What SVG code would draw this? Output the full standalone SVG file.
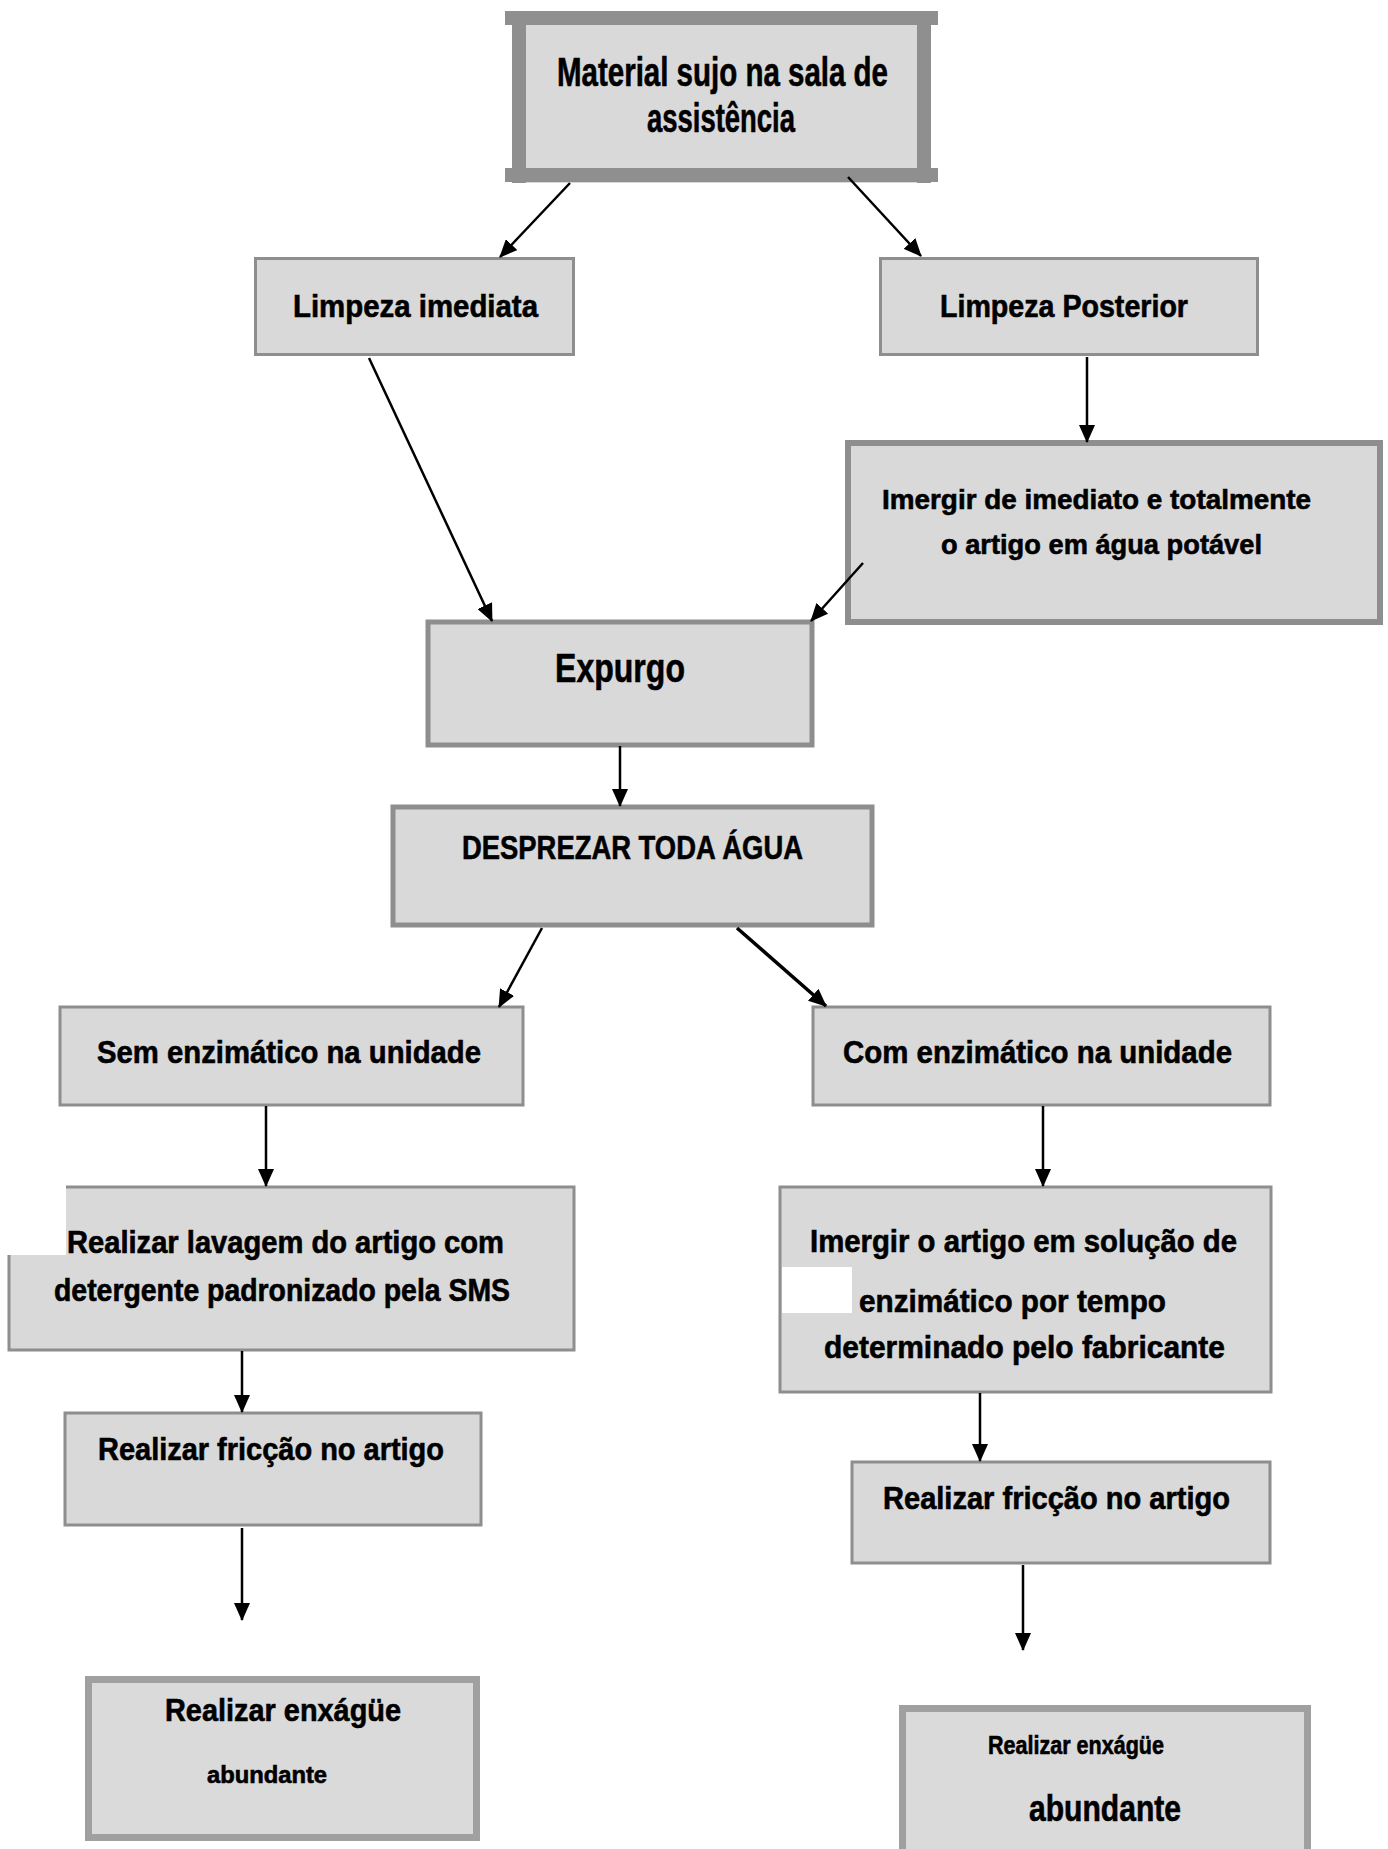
<svg xmlns="http://www.w3.org/2000/svg" width="1388" height="1849" viewBox="0 0 1388 1849">
<style>
.bx{fill:#d9d9d9;stroke:#8e8e8e;stroke-width:3}
.bx5{fill:#d9d9d9;stroke:#8e8e8e;stroke-width:5}
.bx6{fill:#d9d9d9;stroke:#8e8e8e;stroke-width:6}
.bx7{fill:#dadada;stroke:#a0a0a0;stroke-width:7}
.bar{stroke:#8f8f8f;stroke-width:14}
text{font-family:"Liberation Sans",Arial,sans-serif;font-weight:bold;fill:#000;stroke:#000;stroke-width:0.6;text-anchor:start}
.c{stroke:#000;stroke-width:2.5;fill:none;marker-end:url(#ah)}
</style>
<defs>
<marker id="ah" markerUnits="userSpaceOnUse" markerWidth="18" markerHeight="16" viewBox="0 0 18 16" refX="17" refY="8" orient="auto">
<path d="M0,0 L18,8 L0,16 z" fill="#000"/>
</marker>
</defs>
<rect width="1388" height="1849" fill="#fff"/>

<g id="n_top">
<rect x="513" y="11" width="417" height="172" fill="#d9d9d9"/>
<line class="bar" x1="505" y1="18" x2="938" y2="18"/>
<line class="bar" x1="505" y1="175" x2="938" y2="175"/>
<line class="bar" x1="519" y1="11" x2="519" y2="183"/>
<line class="bar" x1="924" y1="11" x2="924" y2="183"/>
<text x="557" y="86" font-size="40" textLength="331" lengthAdjust="spacingAndGlyphs">Material sujo na sala de</text>
<text x="647" y="132" font-size="40" textLength="148" lengthAdjust="spacingAndGlyphs">assistência</text>
</g>

<g id="n_limp_imed">
<rect class="bx" x="255.5" y="258.5" width="318" height="96"/>
<text x="293" y="317" font-size="31" textLength="245" lengthAdjust="spacingAndGlyphs">Limpeza imediata</text>
</g>

<g id="n_limp_post">
<rect class="bx" x="880.5" y="258.5" width="377" height="96"/>
<text x="940" y="317" font-size="31" textLength="248" lengthAdjust="spacingAndGlyphs">Limpeza Posterior</text>
</g>

<g id="n_imergir1">
<rect class="bx6" x="848" y="443" width="532" height="179"/>
<text x="882" y="509" font-size="28" textLength="429" lengthAdjust="spacingAndGlyphs">Imergir de imediato e totalmente</text>
<text x="941" y="554" font-size="28" textLength="321" lengthAdjust="spacingAndGlyphs">o artigo em água potável</text>
</g>

<g id="n_expurgo">
<rect class="bx5" x="428" y="622" width="384" height="123"/>
<text x="555" y="682" font-size="41" textLength="130" lengthAdjust="spacingAndGlyphs">Expurgo</text>
</g>

<g id="n_desprezar">
<rect class="bx5" x="393" y="807" width="479" height="118"/>
<text x="462" y="859" font-size="34" textLength="341" lengthAdjust="spacingAndGlyphs">DESPREZAR TODA ÁGUA</text>
</g>

<g id="n_sem">
<rect class="bx" x="60" y="1007" width="463" height="98"/>
<text x="97" y="1063" font-size="32" textLength="384" lengthAdjust="spacingAndGlyphs">Sem enzimático na unidade</text>
</g>

<g id="n_com">
<rect class="bx" x="813" y="1007" width="457" height="98"/>
<text x="843" y="1063" font-size="32" textLength="389" lengthAdjust="spacingAndGlyphs">Com enzimático na unidade</text>
</g>

<g id="n_lavagem">
<rect class="bx" x="9" y="1187" width="565" height="163"/>
<rect x="7" y="1176" width="59" height="79" fill="#fff"/>
<text x="67" y="1253" font-size="31" textLength="437" lengthAdjust="spacingAndGlyphs">Realizar lavagem do artigo com</text>
<text x="54" y="1301" font-size="31" textLength="456" lengthAdjust="spacingAndGlyphs">detergente padronizado pela SMS</text>
</g>

<g id="n_imergir2">
<rect class="bx" x="780" y="1187" width="491" height="205"/>
<rect x="782" y="1267" width="70" height="46" fill="#fff"/>
<text x="810" y="1252" font-size="32" textLength="427" lengthAdjust="spacingAndGlyphs">Imergir o artigo em solução de</text>
<text x="859" y="1312" font-size="32" textLength="307" lengthAdjust="spacingAndGlyphs">enzimático por tempo</text>
<text x="824" y="1358" font-size="32" textLength="401" lengthAdjust="spacingAndGlyphs">determinado pelo fabricante</text>
</g>

<g id="n_fric_left">
<rect class="bx" x="65" y="1413" width="416" height="112"/>
<text x="98" y="1460" font-size="32" textLength="346" lengthAdjust="spacingAndGlyphs">Realizar fricção no artigo</text>
</g>

<g id="n_fric_right">
<rect class="bx" x="852" y="1462" width="418" height="101"/>
<text x="883" y="1509" font-size="32" textLength="347" lengthAdjust="spacingAndGlyphs">Realizar fricção no artigo</text>
</g>

<g id="n_enx_left">
<rect class="bx7" x="88.5" y="1679.5" width="388" height="158"/>
<text x="165" y="1721" font-size="32" textLength="236" lengthAdjust="spacingAndGlyphs">Realizar enxágüe</text>
<text x="207" y="1783" font-size="23" textLength="120" lengthAdjust="spacingAndGlyphs">abundante</text>
</g>

<g id="n_enx_right">
<rect class="bx7" x="902.5" y="1708.5" width="405" height="160"/>
<text x="988" y="1754" font-size="25" textLength="176" lengthAdjust="spacingAndGlyphs">Realizar enxágüe</text>
<text x="1029" y="1821" font-size="36" textLength="152" lengthAdjust="spacingAndGlyphs">abundante</text>
</g>

<g id="connectors">
<line class="c" x1="570" y1="183" x2="500" y2="257"/>
<line class="c" x1="848" y1="177" x2="921" y2="256"/>
<line class="c" x1="369" y1="358" x2="492" y2="621"/>
<line class="c" x1="1087" y1="357" x2="1087" y2="442"/>
<line class="c" x1="863" y1="563" x2="811" y2="621"/>
<line class="c" x1="620" y1="746" x2="620" y2="806"/>
<line class="c" x1="542" y1="928" x2="499" y2="1007"/>
<line class="c" x1="737" y1="928" x2="826" y2="1006" style="stroke-width:3.5"/>
<line class="c" x1="266" y1="1106" x2="266" y2="1186"/>
<line class="c" x1="1043" y1="1106" x2="1043" y2="1186"/>
<line class="c" x1="980" y1="1393" x2="980" y2="1461"/>
<line class="c" x1="242" y1="1351" x2="242" y2="1412"/>
<line class="c" x1="242" y1="1528" x2="242" y2="1620"/>
<line class="c" x1="1023" y1="1565" x2="1023" y2="1650"/>
</g>
</svg>
